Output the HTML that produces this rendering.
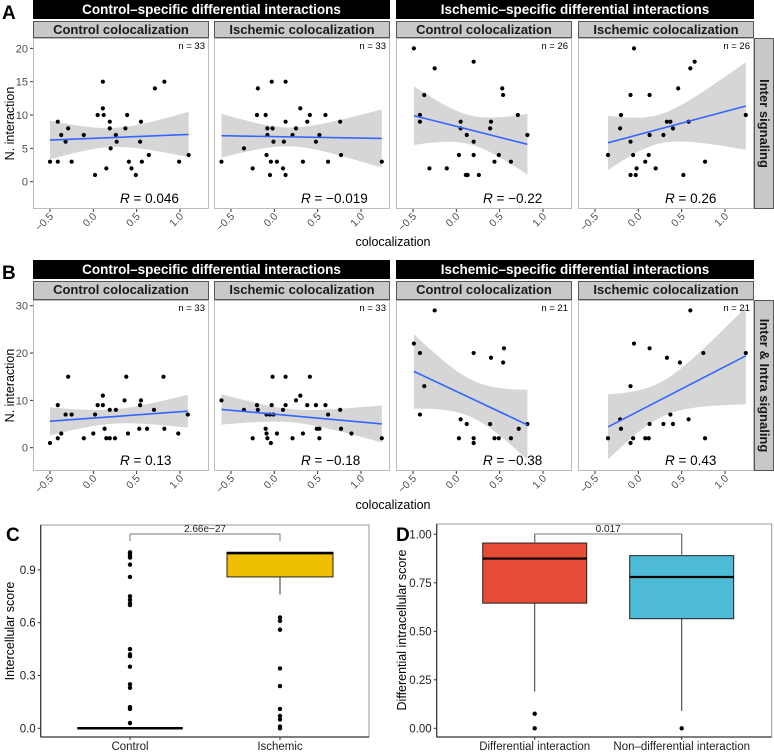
<!DOCTYPE html>
<html><head><meta charset="utf-8"><style>
body{margin:0;background:#fff}
svg{display:block;font-family:"Liberation Sans",Arial,sans-serif}
</style></head><body>
<svg id="fig" width="774" height="756" viewBox="0 0 774 756" xmlns="http://www.w3.org/2000/svg"></svg>
<script>
// ---------- Data: panels A & B (x = colocalization, y = N. interaction) ----------
const a1x=[-0.5,-0.41,-0.37,-0.41,-0.32,-0.29,-0.25,-0.11,0.02,0.05,0.11,0.11,0.12,0.15,0.19,0.19,0.2,0.26,0.27,0.39,0.37,0.41,0.44,0.49,0.55,0.54,0.56,0.64,0.71,0.82,0.99,1.1];
const a1y=[3,9,7,3,6,8,3,7,1,10,15,11,10,2,9,8,5,7,6,10,8,3,2,1,9,6,3,4,14,15,3,4];
const a2x=[-0.61,-0.35,-0.25,-0.19,-0.2,-0.1,-0.08,-0.08,-0.09,-0.05,-0.04,-0.03,-0.02,-0.01,0.03,0.1,0.11,0.13,0.13,0.13,0.21,0.25,0.3,0.33,0.38,0.41,0.48,0.52,0.59,0.62,0.76,0.77,1.24];
const a2y=[3,5,2,14,10,10,8,7,4,1,3,15,8,6,3,2,6,1,15,9,7,8,11,3,9,10,6,7,10,3,9,4,3];
const a3x=[-0.49,-0.25,0.2,-0.37,-0.42,-0.42,0.05,0.05,0.12,0.2,0.4,0.39,0.53,0.54,0.71,0.82,0.03,0.2,0.49,0.44,0.63,-0.31,-0.11,0.11,0.13,0.26];
const a3y=[20,17,18,13,10,9,9,8,7,6,9,8,14,13,10,7,4,4,4,3,3,2,2,1,1,1];
const a4x=[-0.05,0.65,0.6,0.46,-0.09,0.13,1.24,-0.2,-0.21,-0.09,0.13,0.29,0.33,0.37,0.4,0.58,-0.35,-0.06,0.12,0.08,0.77,-0.02,0.2,-0.09,-0.03,0.52];
const a4y=[20,18,17,14,13,13,10,10,8,6,7,7,9,9,8,9,4,4,4,3,3,2,2,1,1,1];
const b1x=[-0.5,-0.41,-0.41,-0.37,-0.32,-0.29,-0.25,-0.11,0,0.02,0.05,0.11,0.11,0.13,0.15,0.19,0.19,0.26,0.25,0.36,0.38,0.4,0.54,0.55,0.53,0.62,0.7,0.81,0.82,0.98,1.09];
const b1y=[1,9,2,3,7,15,7,2,3,7,9,9,11,4,2,2,8,8,2,10,15,3,9,10,4,4,8,15,4,3,7];
const b2x=[-0.61,-0.35,-0.25,-0.2,-0.19,-0.1,-0.09,-0.08,-0.09,-0.05,-0.01,-0.04,-0.03,-0.02,0.03,0.1,0.13,0.13,0.21,0.25,0.3,0.33,0.38,0.41,0.48,0.49,0.52,0.52,0.59,0.62,0.76,0.77,0.89,1.24];
const b2y=[10,8,2,9,8,4,3,2,7,7,7,1,9,15,3,8,9,15,2,10,11,3,9,15,9,4,4,2,9,7,8,4,3,2];
const b3x=[-0.25,-0.49,-0.42,-0.37,-0.42,0.2,0.55,0.4,0.54,0.05,0.12,0.39,0.82,0.72,0.03,0.2,0.2,0.44,0.49,0.63];
const b3y=[29,22,20,13,7,20,21,19,18,6,5,5,5,4,2,2,1,2,2,2];
const b4x=[0.6,-0.05,0.13,0.33,0.48,0.75,1.24,-0.09,-0.21,-0.2,0.37,0.58,0.13,0.29,0.4,-0.35,-0.06,0.08,0.12,0.77,-0.09];
const b4y=[29,22,21,19,18,20,20,13,6,4,7,6,5,5,5,2,2,2,2,2,1];
const nLabelsA=["n = 33","n = 33","n = 26","n = 26"];
const nLabelsB=["n = 33","n = 33","n = 21","n = 21"];
const rLabelsA=["0.046","\u22120.019","\u22120.22","0.26"];
const rLabelsB=["0.13","\u22120.18","\u22120.38","0.43"];
const xTicks=[-0.5,0,0.5,1.0];
const xTickLabels=["\u22120.5","0.0","0.5","1.0"];
const yTicksA=[0,5,10,15,20];
const yTicksB=[0,10,20,30];
const facetCols=["Control colocalization","Ischemic colocalization","Control colocalization","Ischemic colocalization"];
const headers=["Control\u2013specific differential interactions","Ischemic\u2013specific differential interactions"];
// ---------- Data: panel C ----------
const cCats=["Control","Ischemic"];
const cControlPts=[1.0,0.99,0.98,0.97,0.93,0.86,0.75,0.73,0.71,0.70,0.45,0.42,0.41,0.35,0.25,0.23,0.12,0.11,0.03];
const cIschemicPts=[0.63,0.61,0.56,0.34,0.24,0.11,0.07,0.05,0.01,0.0];
const cBoxQ1=[0,0.86], cBoxMed=[0,0.995], cBoxQ3=[0,1.0], cWhLo=[0,0.76], cWhHi=[0,1.0];
const cTicks=[0,0.3,0.6,0.9];
const cPval="2.66e\u221227";
// ---------- Data: panel D ----------
const dCats=["Differential interaction","Non\u2013differential interaction"];
const dQ1=[0.645,0.565], dMed=[0.875,0.78], dQ3=[0.955,0.89], dWhLo=[0.19,0.09], dWhHi=[1.0,1.0];
const dOutDiff=[0.075,0], dOutNon=[0];
const dTicks=[0,0.25,0.5,0.75,1.0];
const dTickLabels=["0.00","0.25","0.50","0.75","1.00"];
const dPval="0.017";

const NS="http://www.w3.org/2000/svg";
const svg=document.getElementById('fig');
function mk(tag,attrs,parent,text){const e=document.createElementNS(NS,tag);for(const k in attrs)e.setAttribute(k,attrs[k]);if(text!==undefined)e.textContent=text;(parent||svg).appendChild(e);return e;}

const panelL=[33,214,396,578], PW=176;
const XMIN=-0.696, XPX=86.67;
function xs(p,v){return panelL[p]+(v-XMIN)*XPX;}

function regress(xa,ya){
  const n=xa.length;let mx=0,my=0;for(let i=0;i<n;i++){mx+=xa[i];my+=ya[i];}mx/=n;my/=n;
  let sxx=0,sxy=0;for(let i=0;i<n;i++){sxx+=(xa[i]-mx)**2;sxy+=(xa[i]-mx)*(ya[i]-my);}
  const b=sxy/sxx,a=my-b*mx;let ss=0;for(let i=0;i<n;i++)ss+=(ya[i]-a-b*xa[i])**2;
  const s=Math.sqrt(ss/(n-2));const t=n<25?2.09:2.04;
  return {a,b,se:(x0)=>t*s*Math.sqrt(1/n+(x0-mx)**2/sxx)};
}

function facetRow(cfg){
  const {top,bot,ys,yTicks,xsArr,ysArr,nL,rL,hdrY,stripY,rowStrip,tag}=cfg;
  for(let h=0;h<2;h++){
    const x0=panelL[h*2],x1=panelL[h*2+1]+PW;
    const g=mk('g',{},svg);
    
    
    mk('rect',{x:x0,y:hdrY,width:x1-x0,height:19,fill:'#000'},g);
    mk('text',{x:(x0+x1)/2,y:hdrY+14,'text-anchor':'middle','font-size':'13.5','font-weight':'bold',fill:'#fff'},g,headers[h]);
  }
  for(let p=0;p<4;p++){
    const L=panelL[p];
    const g=mk('g',{},svg);
    
    
    mk('rect',{x:L+0.5,y:stripY+0.5,width:PW-1,height:top-stripY-1,fill:'#c8c8c8',stroke:'#555','stroke-width':1},g);
    mk('text',{x:L+PW/2,y:stripY+13,'text-anchor':'middle','font-size':'13','font-weight':'bold',fill:'#1a1a1a'},g,facetCols[p]);
    mk('rect',{x:L+0.5,y:top+0.5,width:PW-1,height:bot-top-1,fill:'#fff',stroke:'#bbb','stroke-width':1},g);
    const xa=xsArr[p],ya=ysArr[p];const r=regress(xa,ya);
    const lo=Math.min(...xa),hi=Math.max(...xa);const N=40;let up=[],dn=[];
    for(let i=0;i<=N;i++){const xv=lo+(hi-lo)*i/N;const f=r.a+r.b*xv,e=r.se(xv);up.push(xs(p,xv).toFixed(1)+','+ys(f+e).toFixed(1));dn.unshift(xs(p,xv).toFixed(1)+','+ys(f-e).toFixed(1));}
    const band=mk('polygon',{points:up.concat(dn).join(' '),fill:'#999','fill-opacity':0.4},g);
    
    
    for(let i=0;i<xa.length;i++){
      const c=mk('circle',{cx:xs(p,xa[i]),cy:ys(ya[i]),r:2.1,fill:'#000'},g);
      
      
    }
    const ln=mk('line',{x1:xs(p,lo),y1:ys(r.a+r.b*lo),x2:xs(p,hi),y2:ys(r.a+r.b*hi),stroke:'#3366FF','stroke-width':1.6},g);
    
    
    mk('text',{x:L+PW-4,y:top+11,'text-anchor':'end','font-size':'9.5',fill:'#000'},g,nL[p]);
    const rt=mk('text',{x:L+87,y:bot-6,'font-size':'13.5',fill:'#000'},g);
    mk('tspan',{'font-style':'italic'},rt,'R');
    mk('tspan',{},rt,' = '+rL[p]);
    for(let k=0;k<xTicks.length;k++){
      const tx=xs(p,xTicks[k]);
      mk('line',{x1:tx,y1:bot,x2:tx,y2:bot+3,stroke:'#333','stroke-width':1},g);
      mk('text',{x:tx+4,y:bot+8,'text-anchor':'end','font-size':'10.5',fill:'#4d4d4d',transform:`rotate(-45 ${tx+4} ${bot+8})`},g,xTickLabels[k]);
    }
  }
  for(const v of yTicks){
    mk('line',{x1:30,y1:ys(v),x2:33,y2:ys(v),stroke:'#333'});
    mk('text',{x:28,y:ys(v)+4,'text-anchor':'end','font-size':'11',fill:'#4d4d4d'},svg,String(v));
  }
  const yt=mk('text',{x:14,y:(top+bot)/2,'text-anchor':'middle','font-size':'12.5',fill:'#000',transform:`rotate(-90 14 ${(top+bot)/2})`},svg,'N. interaction');
  
  
  const g=mk('g',{},svg);
  
  
  mk('rect',{x:754.5,y:top+0.5,width:19,height:bot-top-1,fill:'#c8c8c8',stroke:'#555'},g);
  mk('text',{x:760,y:(top+bot)/2,'text-anchor':'middle','font-size':'13','font-weight':'bold',fill:'#1a1a1a',transform:`rotate(90 760 ${(top+bot)/2})`},g,rowStrip);
}

facetRow({top:38,bot:209,ys:v=>181.7-v*6.667,yTicks:yTicksA,xsArr:[a1x,a2x,a3x,a4x],ysArr:[a1y,a2y,a3y,a4y],nL:nLabelsA,rL:rLabelsA,hdrY:0,stripY:21,rowStrip:'Inter signaling',tag:'panel-a'});
facetRow({top:300,bot:471,ys:v=>447.7-v*4.733,yTicks:yTicksB,xsArr:[b1x,b2x,b3x,b4x],ysArr:[b1y,b2y,b3y,b4y],nL:nLabelsB,rL:rLabelsB,hdrY:260,stripY:281,rowStrip:'Inter & Intra signaling',tag:'panel-b'});
let t=mk('text',{x:393,y:246,'text-anchor':'middle','font-size':'12.5',fill:'#000'},svg,'colocalization');

t=mk('text',{x:393,y:509,'text-anchor':'middle','font-size':'12.5',fill:'#000'},svg,'colocalization');


[['A',2,19],['B',2,279],['C',6,541],['D',396,541]].forEach(([l,x,y])=>{
  const e=mk('text',{x,y,'font-size':'19','font-weight':'bold',fill:'#000'},svg,l);
  
  
});

// ---------- Panel C ----------
(function(){
  const L=40.7,R=369,T=525,B=737;const ys=v=>728.3-v*176;const cx=[130,280];
  const g=mk('g',{},svg);
  
  
  mk('rect',{x:L,y:T,width:R-L,height:B-T,fill:'none',stroke:'#999'},g);
  mk('line',{x1:L,y1:T,x2:L,y2:B,stroke:'#333','stroke-width':1.2},g);
  mk('line',{x1:L,y1:B,x2:R,y2:B,stroke:'#333','stroke-width':1.2},g);
  for(const v of cTicks){mk('line',{x1:L-3,y1:ys(v),x2:L,y2:ys(v),stroke:'#333'},g);mk('text',{x:L-5,y:ys(v)+4,'text-anchor':'end','font-size':'11.5',fill:'#222'},g,v.toFixed(1));}
  cCats.forEach((c,i)=>{mk('line',{x1:cx[i],y1:B,x2:cx[i],y2:B+3,stroke:'#333'},g);mk('text',{x:cx[i],y:B+13,'text-anchor':'middle','font-size':'11.5',fill:'#222'},g,c);});
  const hw=[52.7,53];const fills=['#fff','#EFC000'];
  for(let i=0;i<2;i++){
    mk('line',{x1:cx[i],y1:ys(cWhLo[i]),x2:cx[i],y2:ys(cWhHi[i]),stroke:'#555','stroke-width':1.2},g);
    const h=Math.max(ys(cBoxQ1[i])-ys(cBoxQ3[i]),0);
    const bx=mk('rect',{x:cx[i]-hw[i],y:ys(cBoxQ3[i]),width:2*hw[i],height:h,fill:fills[i],stroke:'#222','stroke-width':1},g);
    
    
    mk('line',{x1:cx[i]-hw[i],y1:ys(cBoxMed[i]),x2:cx[i]+hw[i],y2:ys(cBoxMed[i]),stroke:'#000','stroke-width':2.5},g);
  }
  [cControlPts,cIschemicPts].forEach((arr,i)=>arr.forEach(v=>{
    const c=mk('circle',{cx:cx[i],cy:ys(v),r:2.2,fill:'#000'},g);
    
    
  }));
  mk('path',{d:`M${cx[0]} 541 V534 H${cx[1]} V541`,fill:'none',stroke:'#777'},g);
  mk('text',{x:(cx[0]+cx[1])/2,y:532,'text-anchor':'middle','font-size':'10',fill:'#222'},g,cPval);
  const yt=mk('text',{x:14,y:631,'text-anchor':'middle','font-size':'12.5',fill:'#000',transform:'rotate(-90 14 631)'},g,'Intercellular score');
  
  
})();

// ---------- Panel D ----------
(function(){
  const L=436.7,R=771.7,T=524,B=737;const ys=v=>728.3-v*194;const cx=[534.7,681.7];
  const g=mk('g',{},svg);
  
  
  mk('rect',{x:L,y:T,width:R-L,height:B-T,fill:'none',stroke:'#999'},g);
  mk('line',{x1:L,y1:T,x2:L,y2:B,stroke:'#333','stroke-width':1.2},g);
  mk('line',{x1:L,y1:B,x2:R,y2:B,stroke:'#333','stroke-width':1.2},g);
  dTicks.forEach((v,k)=>{mk('line',{x1:L-3,y1:ys(v),x2:L,y2:ys(v),stroke:'#333'},g);mk('text',{x:L-5,y:ys(v)+4,'text-anchor':'end','font-size':'11.5',fill:'#222'},g,dTickLabels[k]);});
  dCats.forEach((c,i)=>{mk('line',{x1:cx[i],y1:B,x2:cx[i],y2:B+3,stroke:'#333'},g);mk('text',{x:cx[i],y:B+13,'text-anchor':'middle','font-size':'11.5',fill:'#222'},g,c);});
  const hw=52;const fills=['#E64B35','#4DBBD5'];
  for(let i=0;i<2;i++){
    mk('line',{x1:cx[i],y1:ys(dWhLo[i]),x2:cx[i],y2:ys(dWhHi[i]),stroke:'#333','stroke-width':1},g);
    const bx=mk('rect',{x:cx[i]-hw,y:ys(dQ3[i]),width:2*hw,height:ys(dQ1[i])-ys(dQ3[i]),fill:fills[i],stroke:'#222','stroke-width':1},g);
    
    
    mk('line',{x1:cx[i]-hw,y1:ys(dMed[i]),x2:cx[i]+hw,y2:ys(dMed[i]),stroke:'#000','stroke-width':2.2},g);
  }
  [dOutDiff,dOutNon].forEach((arr,i)=>arr.forEach(v=>{
    const c=mk('circle',{cx:cx[i],cy:ys(v),r:2.2,fill:'#000'},g);
    
    
  }));
  mk('path',{d:`M${cx[0]} ${ys(dQ3[0])} V534 H${cx[1]} V${ys(dQ3[1])}`,fill:'none',stroke:'#777'},g);
  mk('text',{x:(cx[0]+cx[1])/2,y:532,'text-anchor':'middle','font-size':'10',fill:'#222'},g,dPval);
  const yt=mk('text',{x:406,y:630,'text-anchor':'middle','font-size':'12.5',fill:'#000',transform:'rotate(-90 406 630)'},g,'Differential intracellular score');
  
  
})();
</script>
</body></html>
